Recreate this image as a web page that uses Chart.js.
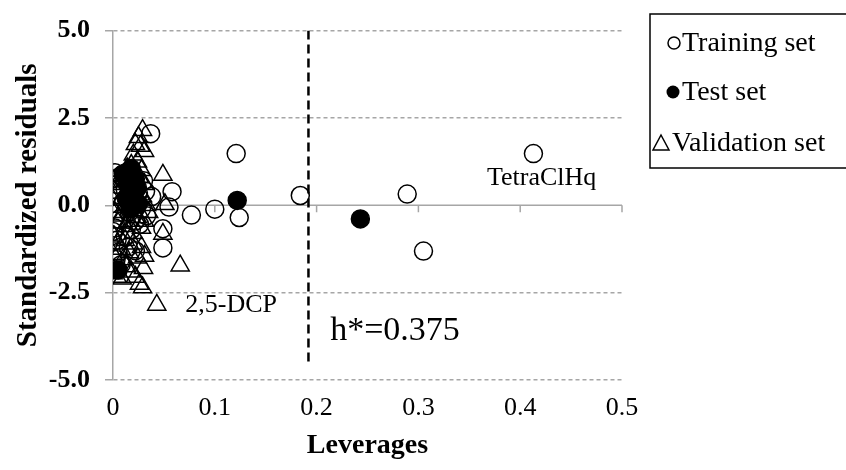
<!DOCTYPE html>
<html>
<head>
<meta charset="utf-8">
<script src="https://cdn.jsdelivr.net/npm/chart.js@4.4.1/dist/chart.umd.min.js"></script>
<style>
    html, body { margin: 0; padding: 0; background: #fff; }
</style>
</head>
<body>
<canvas id="chart" width="846" height="470"></canvas>
<script>

// training set (open circles)
const trainingX = [0.413, 0.289, 0.305, 0.184, 0.121, 0.124, 0.100, 0.077, 0.058, 0.055, 0.049, 0.049, 0.038, 0.037,
    0.000, 0.002, 0.004, 0.006, 0.008, 0.010, 0.012, 0.014, 0.016, 0.018, 0.020, 0.022, 0.025, 0.028, 0.030,
    0.000, 0.002, 0.004, 0.006, 0.003, 0.005, 0.008, 0.012, 0.015, 0.018, 0.022, 0.026, 0.032, 0.033];
const trainingY = [1.48, 0.32, -1.31, 0.28, 1.48, -0.35, -0.11, -0.28, 0.39, -0.05, -0.67, -1.22, 0.25, 2.05,
    0.75, 0.93, 0.60, 0.30, 0.85, 0.10, 0.45, 0.95, -0.20, 0.60, 0.20, -0.45, 0.35, -0.10, 0.70,
    -0.75, -0.65, -1.00, -0.40, -1.55, -1.35, -1.70, -0.90, -1.20, -0.70, -1.30, -0.55, 0.40, -0.30];

// test set (filled circles)
const testX = [0.243, 0.122, 0.005, 0.010, 0.015, 0.018, 0.020, 0.022, 0.025, 0.017, 0.013, 0.024];
const testY = [-0.39, 0.14, -1.85, 0.90, 0.60, 1.05, 0.30, 0.75, 0.05, -0.10, 0.20, 0.50];

// validation set (open triangles)
const validationX = [0.043, 0.049, 0.066, 0.049, 0.051,
    0.029, 0.025, 0.022, 0.027, 0.031, 0.020, 0.024, 0.018, 0.014, 0.028, 0.031,
    0.000, 0.003, 0.006, 0.009, 0.012, 0.015, 0.008, 0.011, 0.019, 0.023, 0.026, 0.029, 0.033, 0.020, 0.016,
    0.002, 0.005, 0.008, 0.012, 0.016, 0.020, 0.024, 0.028, 0.031, 0.035,
    0.001, 0.004, 0.008, 0.012, 0.016, 0.020, 0.024, 0.028, 0.031, 0.000,
    0.000, 0.004, 0.009, 0.013, 0.018, 0.022, 0.026, 0.029, 0.030, 0.010];
const validationY = [-2.85, 0.87, -1.73, -0.82, 0.03,
    2.15, 1.95, 1.75, 1.70, 1.55, 1.45, 1.25, 1.15, 1.05, 1.00, 0.60,
    0.15, 0.35, 0.60, 0.85, 0.70, 0.40, 0.15, -0.05, 0.55, 0.15, 0.80, 0.25, 0.00, -0.15, 0.95,
    -0.20, -0.50, -0.30, -0.60, -0.45, -0.80, -0.35, -0.65, -0.45, -0.20,
    -0.90, -1.10, -1.25, -1.00, -1.35, -1.10, -1.50, -1.20, -1.45, -1.40,
    -1.95, -2.05, -2.10, -1.75, -1.90, -2.05, -2.25, -2.35, -1.80, -1.55];

// warning leverage line h*
const hStarX = [0.192, 0.192];
const hStarY = [5.0, -4.5];

// axis ticks
const xTicks = [0, 0.1, 0.2, 0.3, 0.4, 0.5];
const yTicks = [-5.0, -2.5, 0.0, 2.5, 5.0];

const legendLabels = ["Training set", "Test set", "Validation set"];

const serif = "'Liberation Serif', 'Times New Roman', serif";
const gray = "#a6a6a6";

function toPoints(xs, ys) {
    return xs.map((x, i) => ({ x: x, y: ys[i] }));
}

// zero line of the x axis with its tick marks
const zeroAxis = {
    id: "zeroAxis",
    beforeDatasetsDraw(chart) {
        const ctx = chart.ctx;
        const x = chart.scales.x;
        const y = chart.scales.y;
        const py = y.getPixelForValue(0);
        ctx.save();
        ctx.strokeStyle = gray;
        ctx.lineWidth = 1.5;
        ctx.beginPath();
        ctx.moveTo(x.getPixelForValue(xTicks[0]), py);
        ctx.lineTo(x.getPixelForValue(xTicks[xTicks.length - 1]), py);
        xTicks.forEach((v) => {
            if(v > 0) {
                const px = x.getPixelForValue(v);
                ctx.moveTo(px, py);
                ctx.lineTo(px, py + 7);
            }
        });
        ctx.stroke();
        ctx.restore();
    }
};

// labels inside the plot and the boxed legend
const annotations = {
    id: "annotations",
    afterDraw(chart) {
        const ctx = chart.ctx;
        const x = chart.scales.x;
        const y = chart.scales.y;
        ctx.save();
        ctx.fillStyle = "#000";
        ctx.textAlign = "center";
        ctx.textBaseline = "middle";
        ctx.font = "26px " + serif;
        ctx.fillText("TetraClHq", x.getPixelForValue(0.421), y.getPixelForValue(0.78));
        ctx.fillText("2,5-DCP", x.getPixelForValue(0.116), y.getPixelForValue(-2.85));
        ctx.font = "34px " + serif;
        ctx.fillText("h*=0.375", x.getPixelForValue(0.277), y.getPixelForValue(-3.6));

        // legend box
        ctx.strokeStyle = "#000";
        ctx.lineWidth = 1.5;
        ctx.strokeRect(650, 14, 210, 154);

        ctx.textAlign = "left";
        ctx.font = "28px " + serif;

        // training
        ctx.beginPath();
        ctx.arc(674, 43, 6, 0, Math.PI * 2);
        ctx.stroke();
        ctx.fillText(legendLabels[0], 682, 44);

        // test
        ctx.beginPath();
        ctx.arc(673, 92, 6.5, 0, Math.PI * 2);
        ctx.fill();
        ctx.fillText(legendLabels[1], 682, 93);

        // validation
        ctx.beginPath();
        ctx.moveTo(661, 135);
        ctx.lineTo(669, 150);
        ctx.lineTo(653, 150);
        ctx.closePath();
        ctx.stroke();
        ctx.fillText(legendLabels[2], 672, 144);
        ctx.restore();
    }
};

new Chart(document.getElementById("chart"), {
    type: "scatter",
    data: {
        datasets: [{
            label: legendLabels[0],
            data: toPoints(trainingX, trainingY),
            pointStyle: "circle",
            pointRadius: 9,
            borderColor: "#000",
            backgroundColor: "rgba(0,0,0,0)",
            borderWidth: 1.5,
            order: 3
        }, {
            label: legendLabels[1],
            data: toPoints(testX, testY),
            pointStyle: "circle",
            pointRadius: 9,
            borderColor: "#000",
            backgroundColor: "#000",
            borderWidth: 1.5,
            order: 2
        }, {
            label: legendLabels[2],
            data: toPoints(validationX, validationY),
            pointStyle: "triangle",
            pointRadius: 10.5,
            borderColor: "#000",
            backgroundColor: "rgba(0,0,0,0)",
            borderWidth: 1.5,
            order: 1
        }, {
            label: "h*",
            type: "line",
            data: toPoints(hStarX, hStarY),
            showLine: true,
            pointRadius: 0,
            borderColor: "#000",
            borderWidth: 2.5,
            borderDash: [9, 5],
            order: 4
        }]
    },
    options: {
        responsive: false,
        animation: false,
        layout: {
            padding: { top: 22, right: 224, left: 0, bottom: 0 }
        },
        plugins: {
            legend: { display: false },
            tooltip: { enabled: false }
        },
        scales: {
            x: {
                type: "linear",
                min: 0,
                max: 0.5,
                afterBuildTicks: (s) => { s.ticks = xTicks.map((v) => ({ value: v })); },
                afterFit: (s) => { s.height = 90; },
                ticks: {
                    padding: 13,
                    color: "#000",
                    font: { family: serif, size: 26 },
                    callback: (v) => v == 0 ? "0" : v.toFixed(1)
                },
                grid: { display: false, drawTicks: false },
                border: { display: false },
                title: {
                    display: true,
                    text: "Leverages",
                    color: "#000",
                    font: { family: serif, size: 28, weight: "bold", lineHeight: 1.2 },
                    padding: { top: 0, bottom: 7 }
                }
            },
            y: {
                min: -5,
                max: 5,
                afterBuildTicks: (s) => { s.ticks = yTicks.map((v) => ({ value: v })); },
                afterFit: (s) => { s.width = 113; },
                ticks: {
                    padding: 15,
                    color: "#000",
                    font: { family: serif, size: 26, weight: "bold" },
                    callback: (v) => v.toFixed(1)
                },
                grid: {
                    color: (c) => c.tick && c.tick.value == 0 ? "rgba(0,0,0,0)" : gray,
                    lineWidth: 1.5,
                    tickLength: 8,
                    tickColor: gray,
                    tickWidth: 1.5
                },
                border: { display: true, color: gray, width: 1.5, dash: [4, 3] },
                title: {
                    display: true,
                    text: "Standardized residuals",
                    color: "#000",
                    font: { family: serif, size: 29, weight: "bold", lineHeight: 1.2 },
                    padding: { top: 11, bottom: 0 }
                }
            }
        }
    },
    plugins: [zeroAxis, annotations]
});

</script>
</body>
</html>
